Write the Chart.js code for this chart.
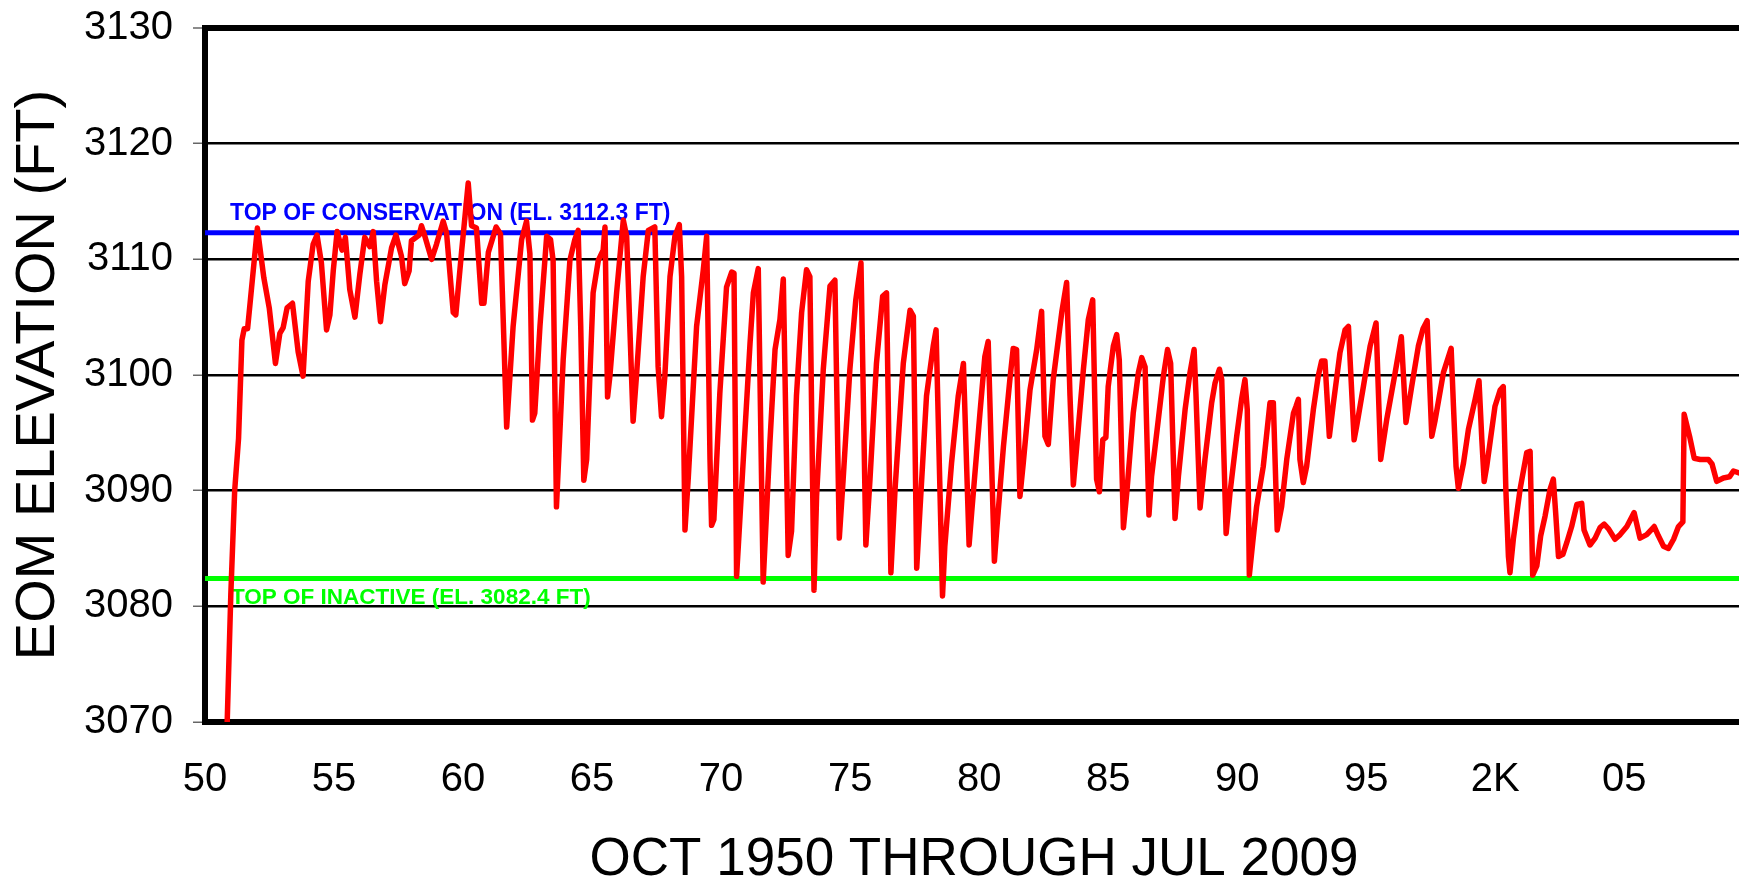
<!DOCTYPE html>
<html>
<head>
<meta charset="utf-8">
<title>EOM Elevation, Oct 1950 through Jul 2009</title>
<script src="https://cdn.jsdelivr.net/npm/chart.js@4.4.1/dist/chart.umd.min.js"></script>
<style>
  html, body { margin: 0; padding: 0; background: #ffffff; overflow: hidden; }
  #wrap { width: 1743px; height: 879px; }
  canvas { display: block; }
</style>
</head>
<body>
<div id="wrap"><canvas id="chart" width="1743" height="879"></canvas></div>
<script>
// End-of-month reservoir elevation (ft), by decimal year.
const monthYears = [
  1950.86, 1951.00, 1951.15, 1951.30, 1951.43, 1951.52, 1951.65, 1951.76, 1952.03, 1952.28,
  1952.49, 1952.73, 1952.90, 1953.03, 1953.18, 1953.39, 1953.61, 1953.80, 1954.00, 1954.19,
  1954.34, 1954.51, 1954.71, 1954.84, 1954.97, 1955.12, 1955.31, 1955.44, 1955.61, 1955.81,
  1956.00, 1956.19, 1956.39, 1956.52, 1956.65, 1956.80, 1956.97, 1957.23, 1957.40, 1957.61,
  1957.74, 1957.91, 1958.00, 1958.30, 1958.39, 1958.52, 1958.78, 1958.97, 1959.23, 1959.36,
  1959.62, 1959.72, 1959.94, 1960.20, 1960.33, 1960.52, 1960.72, 1960.81, 1960.98, 1961.28,
  1961.45, 1961.69, 1961.94, 1962.27, 1962.46, 1962.59, 1962.69, 1962.78, 1962.98, 1963.24,
  1963.39, 1963.49, 1963.62, 1963.88, 1964.14, 1964.33, 1964.46, 1964.56, 1964.68, 1964.79,
  1965.04, 1965.24, 1965.43, 1965.50, 1965.60, 1965.69, 1965.95, 1966.21, 1966.34, 1966.59,
  1966.72, 1966.98, 1967.18, 1967.43, 1967.56, 1967.69, 1967.82, 1968.02, 1968.21, 1968.38,
  1968.47, 1968.60, 1968.73, 1969.05, 1969.31, 1969.44, 1969.57, 1969.63, 1969.72, 1969.95,
  1970.21, 1970.41, 1970.50, 1970.60, 1970.86, 1971.12, 1971.25, 1971.44, 1971.63, 1971.89,
  1972.09, 1972.28, 1972.41, 1972.60, 1972.73, 1972.92, 1973.12, 1973.31, 1973.44, 1973.60,
  1973.70, 1973.96, 1974.22, 1974.41, 1974.58, 1974.73, 1974.99, 1975.22, 1975.42, 1975.61,
  1975.77, 1976.02, 1976.26, 1976.41, 1976.58, 1976.74, 1977.06, 1977.32, 1977.45, 1977.58,
  1977.70, 1977.96, 1978.22, 1978.33, 1978.58, 1978.67, 1978.93, 1979.19, 1979.39, 1979.61,
  1979.71, 1980.03, 1980.22, 1980.35, 1980.59, 1980.68, 1980.94, 1981.19, 1981.32, 1981.45,
  1981.58, 1981.71, 1981.97, 1982.23, 1982.42, 1982.55, 1982.68, 1982.87, 1983.20, 1983.39,
  1983.52, 1983.65, 1983.78, 1984.04, 1984.23, 1984.40, 1984.49, 1984.55, 1984.66, 1984.79,
  1984.91, 1985.00, 1985.20, 1985.33, 1985.43, 1985.59, 1985.72, 1985.97, 1986.17, 1986.30,
  1986.43, 1986.58, 1986.68, 1986.94, 1987.14, 1987.30, 1987.42, 1987.59, 1987.72, 1987.98,
  1988.17, 1988.33, 1988.40, 1988.56, 1988.75, 1989.01, 1989.14, 1989.31, 1989.40, 1989.57,
  1989.72, 1989.98, 1990.17, 1990.30, 1990.39, 1990.47, 1990.60, 1990.75, 1991.01, 1991.27,
  1991.40, 1991.55, 1991.72, 1991.92, 1992.18, 1992.28, 1992.37, 1992.43, 1992.56, 1992.69,
  1992.95, 1993.14, 1993.27, 1993.40, 1993.57, 1993.73, 1993.98, 1994.18, 1994.31, 1994.53,
  1994.63, 1994.89, 1995.15, 1995.38, 1995.56, 1995.79, 1996.12, 1996.36, 1996.54, 1996.76,
  1997.02, 1997.20, 1997.36, 1997.54, 1997.67, 1997.99, 1998.29, 1998.38, 1998.48, 1998.57,
  1998.77, 1998.96, 1999.22, 1999.37, 1999.48, 1999.57, 1999.67, 1999.99, 2000.19, 2000.31,
  2000.41, 2000.51, 2000.57, 2000.70, 2000.96, 2001.22, 2001.35, 2001.45, 2001.61, 2001.76,
  2001.93, 2002.12, 2002.25, 2002.34, 2002.45, 2002.62, 2002.77, 2002.96, 2003.16, 2003.35,
  2003.44, 2003.67, 2003.87, 2004.06, 2004.22, 2004.39, 2004.64, 2004.84, 2005.10, 2005.38,
  2005.61, 2005.87, 2006.16, 2006.32, 2006.52, 2006.71, 2006.91, 2007.10, 2007.27, 2007.32,
  2007.53, 2007.71, 2007.94, 2008.26, 2008.40, 2008.58, 2008.84, 2009.08, 2009.23, 2009.50
];

const elevationFt = [
  3070.0, 3081.0, 3090.0, 3094.5, 3103.0, 3104.0, 3104.0, 3106.5, 3112.7, 3108.4,
  3105.8, 3101.0, 3103.6, 3104.1, 3105.8, 3106.2, 3102.0, 3099.9, 3108.1, 3111.3,
  3112.1, 3109.7, 3103.9, 3105.2, 3109.0, 3112.4, 3110.8, 3111.9, 3107.4, 3105.0,
  3108.7, 3111.9, 3111.1, 3112.4, 3108.1, 3104.6, 3107.8, 3111.0, 3112.1, 3110.3,
  3107.9, 3109.0, 3111.6, 3112.1, 3112.9, 3112.0, 3110.0, 3111.3, 3113.3, 3112.3,
  3105.4, 3105.2, 3110.6, 3116.6, 3112.9, 3112.7, 3106.2, 3106.2, 3110.6, 3112.8,
  3112.2, 3095.5, 3104.2, 3111.7, 3113.3, 3110.5, 3096.1, 3096.7, 3104.2, 3112.0,
  3111.7, 3109.9, 3088.6, 3101.3, 3109.9, 3111.7, 3112.5, 3104.2, 3090.9, 3092.7,
  3107.1, 3109.9, 3110.8, 3112.8, 3098.1, 3099.9, 3107.1, 3113.4, 3112.0, 3096.0,
  3099.9, 3108.5, 3112.5, 3112.8, 3100.7, 3096.4, 3099.9, 3108.5, 3112.0, 3113.0,
  3108.5, 3086.6, 3091.2, 3104.2, 3109.1, 3112.0, 3092.7, 3087.0, 3087.5, 3098.4,
  3107.6, 3108.9, 3108.8, 3082.6, 3092.7, 3102.7, 3107.1, 3109.2, 3082.1, 3094.1,
  3102.2, 3104.8, 3108.3, 3084.4, 3086.5, 3098.2, 3105.4, 3109.1, 3108.5, 3081.4,
  3089.5, 3100.5, 3107.7, 3108.2, 3085.9, 3091.0, 3100.5, 3106.5, 3109.7, 3085.3,
  3091.0, 3101.0, 3106.8, 3107.1, 3082.9, 3090.1, 3101.0, 3105.6, 3105.1, 3083.3,
  3088.1, 3098.2, 3102.5, 3103.9, 3080.9, 3085.2, 3092.4, 3098.2, 3101.0, 3085.3,
  3088.1, 3096.7, 3101.6, 3102.9, 3083.9, 3086.6, 3093.8, 3099.6, 3102.3, 3102.2,
  3089.5, 3092.4, 3098.7, 3102.2, 3105.5, 3094.7, 3094.0, 3099.6, 3105.4, 3108.0,
  3098.2, 3090.5, 3093.8, 3100.5, 3104.8, 3106.5, 3097.0, 3091.0, 3089.9, 3094.4,
  3094.6, 3099.0, 3102.5, 3103.5, 3101.3, 3086.8, 3089.8, 3096.7, 3100.2, 3101.5,
  3100.7, 3087.9, 3091.2, 3096.1, 3099.9, 3102.2, 3101.0, 3087.6, 3091.2, 3097.0,
  3100.2, 3102.2, 3098.4, 3088.5, 3092.7, 3097.6, 3099.3, 3100.5, 3099.6, 3086.3,
  3089.8, 3094.7, 3097.9, 3099.6, 3097.0, 3082.7, 3085.5, 3088.6, 3092.1, 3097.6,
  3097.6, 3086.6, 3088.6, 3092.7, 3096.7, 3097.3, 3097.9, 3092.7, 3090.7, 3092.1,
  3097.0, 3099.9, 3101.2, 3101.2, 3094.7, 3097.6, 3101.9, 3103.9, 3104.2, 3094.4,
  3095.6, 3099.0, 3102.5, 3104.5, 3092.7, 3096.1, 3100.2, 3103.3, 3095.9, 3099.0,
  3102.5, 3104.0, 3104.7, 3094.7, 3096.1, 3100.2, 3102.3, 3097.3, 3092.1, 3090.2,
  3092.4, 3095.3, 3097.9, 3099.5, 3094.4, 3090.8, 3092.1, 3097.3, 3098.7, 3099.0,
  3090.1, 3084.3, 3082.9, 3085.8, 3090.1, 3093.3, 3093.4, 3082.7, 3083.5, 3086.1,
  3087.8, 3090.1, 3091.0, 3088.1, 3084.3, 3084.5, 3085.5, 3086.9, 3088.8, 3088.9,
  3086.6, 3085.3, 3085.9, 3086.8, 3087.1, 3086.7, 3085.8, 3086.2, 3086.9, 3088.1,
  3085.9, 3086.2, 3086.9, 3086.1, 3085.2, 3085.0, 3085.8, 3086.9, 3087.3, 3096.6,
  3094.7, 3092.8, 3092.7, 3092.7, 3092.3, 3090.8, 3091.1, 3091.2, 3091.7, 3091.5
];

// Horizontal axis: years, labelled every five years.
const tickYears  = [1950, 1955, 1960, 1965, 1970, 1975, 1980, 1985, 1990, 1995, 2000, 2005];
const tickLabels = ['50', '55', '60', '65', '70', '75', '80', '85', '90', '95', '2K', '05'];

// Reservoir reference pools.
const poolElevations = [3112.3, 3082.4];
const poolNames      = ['TOP OF CONSERVATION (EL. 3112.3 FT)', 'TOP OF INACTIVE (EL. 3082.4 FT)'];
const poolColors     = ['#0000ff', '#00ff00'];

const X_MIN = 1950, X_MAX = 2009.6;
const Y_MIN = 3070, Y_MAX = 3130;
const FONT = '"Liberation Sans", Arial, Helvetica, sans-serif';

// Pool names sit just above (conservation) and below (inactive) their lines.
const poolLabelPlugin = {
  id: 'poolLabels',
  beforeDatasetsDraw(chart) {
    const { ctx, chartArea, scales } = chart;
    const offsets = [{ dx: 25, dy: -13 }, { dx: 26, dy: 25 }];
    ctx.save();
    ctx.textAlign = 'left';
    ctx.textBaseline = 'alphabetic';
    poolNames.forEach((name, i) => {
      ctx.font = 'bold ' + (i === 0 ? 23 : 22.5) + 'px ' + FONT;
      ctx.fillStyle = poolColors[i];
      const yPix = scales.y.getPixelForValue(poolElevations[i]);
      ctx.fillText(name, chartArea.left + offsets[i].dx, yPix + offsets[i].dy);
    });
    ctx.restore();
  }
};

const poolDatasets = poolElevations.map((elev, i) => ({
  label: poolNames[i],
  data: [{ x: X_MIN, y: elev }, { x: X_MAX, y: elev }],
  borderColor: poolColors[i],
  borderWidth: 5,
  pointRadius: 0,
  tension: 0,
  order: i + 1
}));

new Chart(document.getElementById('chart'), {
  type: 'line',
  data: {
    datasets: [
      {
        label: 'EOM ELEVATION',
        data: monthYears.map((yr, i) => ({ x: yr, y: elevationFt[i] })),
        borderColor: '#ff0000',
        borderWidth: 5.5,
        borderJoinStyle: 'round',
        borderCapStyle: 'round',
        pointRadius: 0,
        tension: 0,
        order: 0
      },
      ...poolDatasets
    ]
  },
  options: {
    responsive: false,
    animation: false,
    events: [],
    layout: { padding: { top: 28, left: 0, right: 0, bottom: 0 } },
    plugins: {
      legend: { display: false },
      tooltip: { enabled: false }
    },
    scales: {
      x: {
        type: 'linear',
        min: X_MIN,
        max: X_MAX,
        afterBuildTicks: (scale) => { scale.ticks = tickYears.map(v => ({ value: v })); },
        afterFit: (scale) => {
          scale.height = 157;
          scale.paddingLeft = 0;
          scale.paddingRight = 0;
        },
        grid: { display: false, drawTicks: false },
        border: { display: true, color: '#000000', width: 6 },
        ticks: {
          autoSkip: false,
          maxRotation: 0,
          padding: 34,
          color: '#000000',
          font: { family: FONT, size: 40 },
          callback: (v) => { const k = tickYears.indexOf(v); return k >= 0 ? tickLabels[k] : ''; }
        },
        title: {
          display: true,
          text: 'OCT 1950 THROUGH JUL 2009',
          color: '#000000',
          font: { family: FONT, size: 53, lineHeight: 1 },
          padding: { top: 0, bottom: -8 }
        }
      },
      y: {
        min: Y_MIN,
        max: Y_MAX,
        afterFit: (scale) => {
          scale.width = 205;
          scale.paddingTop = 0;
          scale.paddingBottom = 0;
        },
        grid: {
          color: '#000000',
          lineWidth: (c) => (c.tick && c.tick.value === Y_MAX ? 6 : 2.5),
          drawTicks: true,
          tickLength: 12,
          tickColor: '#666666',
          tickWidth: 1.5
        },
        border: { display: true, color: '#000000', width: 6 },
        ticks: {
          stepSize: 10,
          padding: 20,
          color: '#000000',
          font: { family: FONT, size: 40 },
          callback: (v) => String(v)
        },
        title: {
          display: true,
          text: 'EOM ELEVATION (FT)',
          color: '#000000',
          font: { family: FONT, size: 56, lineHeight: 1.2 },
          padding: { top: 5, bottom: 0 }
        }
      }
    }
  },
  plugins: [poolLabelPlugin]
});
</script>
</body>
</html>
